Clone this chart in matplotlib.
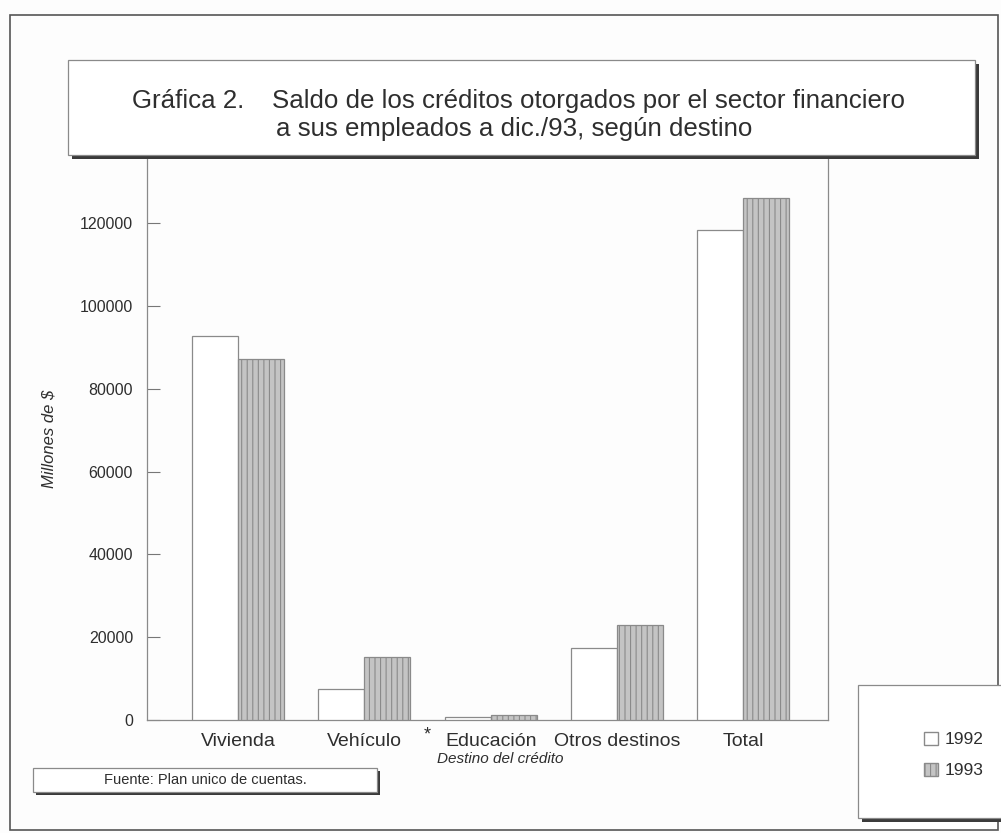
import numpy as np
import matplotlib
matplotlib.use('Agg')
from matplotlib import pyplot as plt
from matplotlib.patches import Rectangle, Patch

plt.rcParams['font.family'] = ['Liberation Sans', 'DejaVu Sans']
plt.rcParams['hatch.color'] = '#7a7a7a'
plt.rcParams['hatch.linewidth'] = 0.8

categories = ['Vivienda', 'Vehículo', 'Educación', 'Otros destinos', 'Total']
years = ['1992', '1993']
saldo_1992 = [92700, 7600, 700, 17400, 118300]
saldo_1993 = [87300, 15300, 1300, 23000, 126200]
y_ticks = [0, 20000, 40000, 60000, 80000, 100000, 120000]

W, H = 1001, 833
TXT = '#2e2e2e'


def fx(x):
    return x / W


def fy(y):
    return 1 - y / H


def shadow_box(x0, y0, x1, y1, off=4, z=5):
    # dark shadow first, then the white box on top
    fig.patches.append(Rectangle((fx(x0 + off), fy(y1 + off)), fx(x1 - x0), (y1 - y0) / H,
                                 transform=fig.transFigure, facecolor='#3a3a3a',
                                 edgecolor='none', zorder=z))
    fig.patches.append(Rectangle((fx(x0), fy(y1)), fx(x1 - x0), (y1 - y0) / H,
                                 transform=fig.transFigure, facecolor='white',
                                 edgecolor='#8a8a8a', linewidth=0.9, zorder=z + 0.1))


fig = plt.figure(figsize=(W / 100, H / 100), dpi=100, facecolor='#fdfdfd')

# page border
fig.patches.append(Rectangle((fx(10), fy(830)), fx(988), 815 / H, transform=fig.transFigure,
                             facecolor='none', edgecolor='#555555', linewidth=1.2, zorder=1))

ax = fig.add_axes([fx(147), fy(720), fx(828 - 147), (720 - 158) / H])
ax.set_facecolor('none')

x = np.arange(len(categories))
w = 0.365
ax.bar(x - w / 2, saldo_1992, w, color='white', edgecolor='#8a8a8a', linewidth=0.9,
       label=years[0], zorder=3)
ax.bar(x + w / 2, saldo_1993, w, color='#c4c4c4', edgecolor='#8a8a8a', linewidth=0.9,
       hatch='|||', label=years[1], zorder=3)

ax.set_xlim(-0.72, 4.67)
ax.set_ylim(0, 135800)
ax.set_yticks(y_ticks)
ax.set_yticklabels([str(v) for v in y_ticks], fontsize=11.5, color=TXT)
ax.tick_params(axis='y', direction='in', length=9.5, width=0.8, color='#777777', pad=10)
ax.set_xticks(x)
ax.set_xticklabels(categories, fontsize=14, color=TXT)
ax.tick_params(axis='x', length=0, pad=9)
for s in ['left', 'right', 'bottom']:
    ax.spines[s].set_color('#8a8a8a')
    ax.spines[s].set_linewidth(0.9)
ax.spines['top'].set_visible(False)

ax.set_ylabel('Millones de $', fontsize=12, style='italic', color=TXT, labelpad=17)
fig.text(fx(500), fy(759), 'Destino del crédito', fontsize=11, style='italic',
         color=TXT, ha='center', va='center')
fig.text(fx(427), fy(735), '*', fontsize=13, color=TXT, ha='center', va='center')

# title box
shadow_box(68, 60, 975, 155)
fig.text(fx(132), fy(101), 'Gráfica 2.', fontsize=18.6, color=TXT,
         va='center', ha='left', zorder=10)
fig.text(fx(272), fy(101), 'Saldo de los créditos otorgados por el sector financiero',
         fontsize=18.6, color=TXT, va='center', ha='left', zorder=10)
fig.text(fx(276), fy(129), 'a sus empleados a dic./93, según destino',
         fontsize=18.6, color=TXT, va='center', ha='left', zorder=10)

# source box
shadow_box(33, 768, 377, 792, off=3)
fig.text(fx(205), fy(780), 'Fuente: Plan unico de cuentas.', fontsize=10.5,
         color=TXT, ha='center', va='center', zorder=10)

# legend box
shadow_box(858, 685, 1012, 818, off=4)
handles = [Patch(facecolor='white', edgecolor='#8a8a8a', label=years[0]),
           Patch(facecolor='#c4c4c4', edgecolor='#8a8a8a', hatch='|||', label=years[1])]
leg = fig.legend(handles=handles, loc='center left', bbox_to_anchor=(fx(908), fy(755)),
                 frameon=False, fontsize=12.5, handlelength=0.8, handleheight=0.8,
                 handletextpad=0.4, labelspacing=0.9, labelcolor=TXT)
leg.set_zorder(12)

fig.savefig('out.png', dpi=100, facecolor=fig.get_facecolor())
